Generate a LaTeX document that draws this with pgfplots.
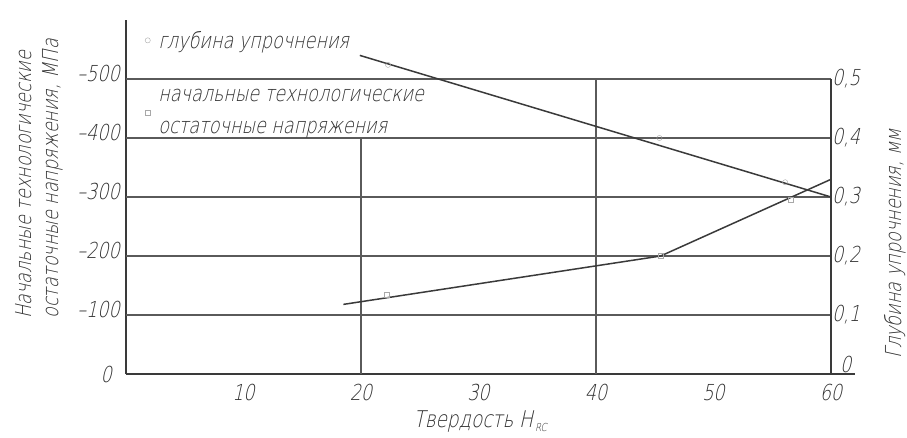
\documentclass[border=0pt]{standalone}
\usepackage{fontspec}
\setmainfont{DejaVu Sans ExtraLight}[FakeSlant=0.22, FakeStretch=0.8]
\usepackage{pgfplots}
\pgfplotsset{compat=1.18}
\definecolor{ink}{HTML}{3A3A3A}
\definecolor{grd}{HTML}{5A5A5A}
\definecolor{mk}{HTML}{A8A8A8}
\definecolor{txt}{HTML}{303030}
\begin{document}
\begin{tikzpicture}[x=1pt,y=1pt]
\useasboundingbox (0,0) rectangle (907,437);
\begin{axis}[at={(126pt,63pt)}, anchor=south west, scale only axis,
  width=728.5pt, height=354pt,
  xmin=0, xmax=62, ymin=-600, ymax=0, y dir=reverse,
  axis line style={draw=none}, tick style={draw=none},
  clip=false,
  xtick={10,20,30,40,50,60}, xticklabels={10,20,30,40,50,60},
  ytick={-500,-400,-300,-200,-100},
  yticklabels={–500,–400,–300,–200,–100},
  extra y ticks={0}, extra y tick labels={0},
  extra y tick style={yticklabel style={xshift=-8pt, yshift=-6pt}},
  ticklabel style={font=\fontsize{22}{24}\selectfont, text=txt},
  yticklabel style={yshift=6pt, xshift=-4pt, inner sep=2pt},
  xticklabel style={inner sep=2pt, yshift=-8pt},
  legend style={at={(axis description cs:0.026,0.975)}, anchor=north west,
    draw=none, fill=none, inner sep=0pt,
    font=\fontsize{22}{32}\selectfont, text=txt,
    cells={anchor=west, align=left}, row sep=36pt, column sep=6pt},
]
\draw[ink, line width=1.6pt] (axis cs:0,0) -- (axis cs:62,0);
\draw[ink, line width=1.6pt] (axis cs:0,0) -- (axis cs:0,-600);
\foreach \v in {-100,-200,-300,-400,-500}{
  \edef\tmp{\noexpand\draw[grd, line width=1.1pt] (axis cs:0,\v) -- (axis cs:60,\v);}\tmp
}
\draw[grd, line width=1.1pt] (axis cs:20,0) -- (axis cs:20,-400);
\draw[grd, line width=1.1pt] (axis cs:40,0) -- (axis cs:40,-500);
\draw[ink, line width=1.4pt] (axis cs:60,0) -- (axis cs:60,-500);
\addlegendimage{only marks, mark=o, mark size=2.6pt, mk}
\addlegendentry{глубина упрочнения}
\addlegendimage{only marks, mark=square, mark size=2.6pt, mk}
\addlegendentry{начальные технологические\\остаточные напряжения}
\addplot[ink, line width=1.5pt, forget plot] coordinates {(18.5,-118) (45.5,-200) (60,-330)};
\addplot[only marks, mark=square, mark size=2.6pt, mk, forget plot] coordinates {(22.2,-134) (45.5,-200) (56.6,-295)};
\end{axis}
\begin{axis}[at={(126pt,63pt)}, anchor=south west, scale only axis,
  width=705pt, height=354pt,
  xmin=0, xmax=60, ymin=0, ymax=0.6,
  axis x line=none, axis y line*=right,
  axis line style={draw=none}, tick style={draw=none},
  clip=false,
  ytick={0.1,0.2,0.3,0.4,0.5},
  yticklabels={{0,1},{0,2},{0,3},{0,4},{0,5}},
  extra y ticks={0}, extra y tick labels={0},
  extra y tick style={yticklabel style={yshift=10pt, xshift=8pt}},
  ticklabel style={font=\fontsize{22}{24}\selectfont, text=txt},
  yticklabel style={inner sep=1pt},
]
\addplot[ink, line width=1.5pt] coordinates {(19.9,0.54) (60,0.30)};
\addplot[only marks, mark=o, mark size=2.6pt, mk] coordinates {(22.3,0.524) (45.4,0.40) (56.1,0.325)};
\end{axis}
\node[rotate=90, anchor=north west, align=left, text=txt,
  font=\fontsize{22}{27}\selectfont] at (12,115)
  {Начальные технологические\\остаточные напряжения, МПа};
\node[rotate=90, anchor=north west, text=txt,
  font=\fontsize{22}{27}\selectfont] at (881,75)
  {Глубина упрочнения, мм};
\node[anchor=west, text=txt, font=\fontsize{23}{26}\selectfont] at (410,15)
  {Твердость H\kern2pt\textsubscript{\fontsize{11}{11}\selectfont RC}};
\end{tikzpicture}
\end{document}
